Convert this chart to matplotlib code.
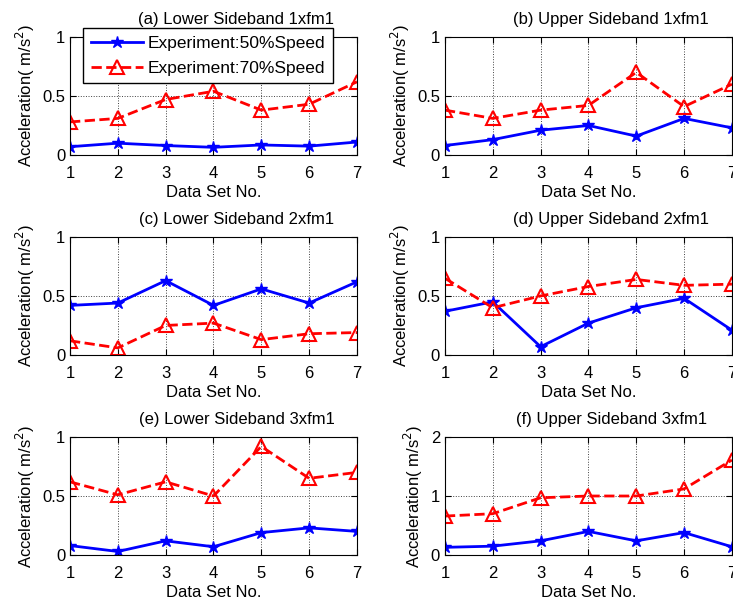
import matplotlib.pyplot as plt

plt.rcParams['font.family'] = ['Liberation Sans', 'DejaVu Sans']

data_sets = [1, 2, 3, 4, 5, 6, 7]

titles = ['(a) Lower Sideband 1xfm1', '(b) Upper Sideband 1xfm1',
          '(c) Lower Sideband 2xfm1', '(d) Upper Sideband 2xfm1',
          '(e) Lower Sideband 3xfm1', '(f) Upper Sideband 3xfm1']

speed50_a = [0.07, 0.10, 0.08, 0.065, 0.085, 0.075, 0.11]
speed70_a = [0.28, 0.31, 0.47, 0.54, 0.38, 0.43, 0.62]
speed50_b = [0.08, 0.13, 0.21, 0.25, 0.16, 0.31, 0.23]
speed70_b = [0.38, 0.31, 0.38, 0.42, 0.70, 0.41, 0.60]
speed50_c = [0.42, 0.44, 0.63, 0.42, 0.56, 0.44, 0.62]
speed70_c = [0.12, 0.06, 0.25, 0.27, 0.13, 0.18, 0.19]
speed50_d = [0.37, 0.45, 0.07, 0.27, 0.40, 0.48, 0.21]
speed70_d = [0.65, 0.40, 0.50, 0.58, 0.64, 0.59, 0.60]
speed50_e = [0.08, 0.03, 0.12, 0.07, 0.19, 0.23, 0.20]
speed70_e = [0.62, 0.51, 0.62, 0.50, 0.92, 0.65, 0.70]
speed50_f = [0.13, 0.15, 0.24, 0.40, 0.24, 0.38, 0.14]
speed70_f = [0.66, 0.70, 0.97, 1.00, 1.00, 1.12, 1.61]

speed50 = [speed50_a, speed50_b, speed50_c, speed50_d, speed50_e, speed50_f]
speed70 = [speed70_a, speed70_b, speed70_c, speed70_d, speed70_e, speed70_f]
y_max = [1, 1, 1, 1, 1, 2]

fig = plt.figure(figsize=(7.33, 6.04), dpi=100)
lefts = [0.0955, 0.607]
bottoms = [0.7434, 0.4123, 0.0811]
w, h = 0.3915, 0.1954

for i in range(6):
    ax = fig.add_axes([lefts[i % 2], bottoms[i // 2], w, h])
    ax.plot(data_sets, speed50[i], '-', color='blue', lw=2, marker='*',
            ms=9, label='Experiment:50%Speed')
    ax.plot(data_sets, speed70[i], '--', color='red', lw=2, marker='^',
            ms=10, mfc='none', mew=1.5, label='Experiment:70%Speed')
    ax.set_xlim(1, 7)
    ax.set_ylim(0, y_max[i])
    ax.set_xticks(data_sets)
    if y_max[i] == 2:
        ax.set_yticks([0, 1, 2])
        ax.set_yticklabels(['0', '1', '2'])
    else:
        ax.set_yticks([0, 0.5, 1])
        ax.set_yticklabels(['0', '0.5', '1'])
    ax.grid(True, color='black', linestyle=':', linewidth=0.7, alpha=0.75)
    ax.tick_params(direction='in', top=True, right=True, labelsize=12, length=4)
    ax.tick_params(axis='x', pad=8)
    ax.set_xlabel('Data Set No.', fontsize=12, labelpad=3)
    ax.set_ylabel('Acceleration( m/s$^2$)', fontsize=12, labelpad=4)
    ax.text(0.58, 1.15, titles[i], transform=ax.transAxes, ha='center',
            va='center', fontsize=12)
    if i == 0:
        ax.legend(loc='upper left', bbox_to_anchor=(0.045, 1.076), fontsize=12.5,
                  fancybox=False, edgecolor='black', framealpha=1,
                  handlelength=3.0, handletextpad=0.3, borderpad=0.45,
                  labelspacing=0.55, borderaxespad=0)

fig.savefig('out.png', dpi=100)
